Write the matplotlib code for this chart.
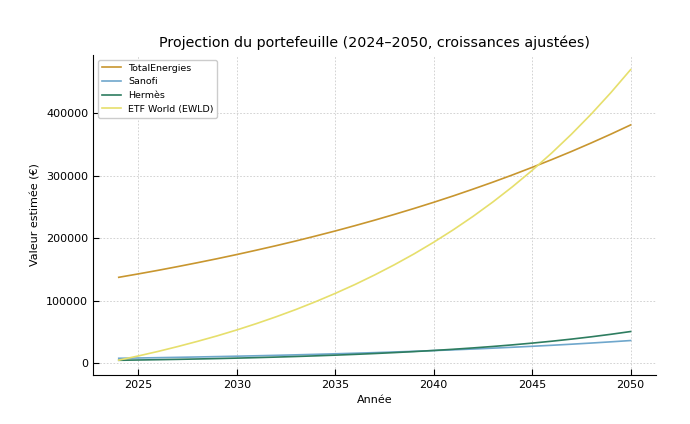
import matplotlib
matplotlib.use("Agg")
import matplotlib.pyplot as plt

# Years of the projection
years = list(range(2024, 2051))

# Estimated portfolio values (EUR)
total_energies = [137600, 143100, 148800, 154800, 161000, 167400, 174100, 181100,
                  188300, 195800, 203700, 211800, 220300, 229100, 238300, 247800,
                  257700, 268000, 278800, 289900, 301500, 313600, 326100, 339100,
                  352700, 366800, 381500]
sanofi = [8000, 8480, 8990, 9530, 10100, 10710, 11350, 12030, 12750, 13520, 14330,
          15190, 16100, 17060, 18090, 19170, 20320, 21540, 22830, 24210, 25660,
          27200, 28830, 30560, 32390, 34340, 36400]
hermes = [4800, 5260, 5760, 6300, 6900, 7560, 8270, 9060, 9920, 10860, 11900,
          13030, 14260, 15620, 17100, 18730, 20510, 22450, 24590, 26920, 29480,
          32280, 35350, 38710, 42380, 46410, 50820]
etf_world = [5000, 11800, 19000, 26800, 35100, 43900, 53400, 63600, 74500, 86100,
             98600, 111900, 126100, 141400, 157700, 175100, 193800, 213800, 235200,
             258100, 282600, 308800, 336800, 366800, 398900, 433300, 470000]

series = [
    ("TotalEnergies", total_energies, "#c8962f"),
    ("Sanofi", sanofi, "#6fa7cc"),
    ("Hermès", hermes, "#2e7d60"),
    ("ETF World (EWLD)", etf_world, "#e6df6c"),
]

fig, ax = plt.subplots(figsize=(6.9, 4.24), dpi=100)
fig.subplots_adjust(left=0.135, right=0.951, top=0.870, bottom=0.116)

for name, values, color in series:
    ax.plot(years, values, color=color, linewidth=1.2, label=name)

ax.set_title("Projection du portefeuille (2024–2050, croissances ajustées)", fontsize=10.3)
ax.set_xlabel("Année", fontsize=8)
ax.set_ylabel("Valeur estimée (€)", fontsize=8)
ax.tick_params(labelsize=8, direction="in", length=4)
ax.grid(True, linestyle=(0, (2, 2)), color="#cccccc", linewidth=0.6)
ax.spines["top"].set_visible(False)
ax.spines["right"].set_visible(False)
ax.legend(loc="upper left", fontsize=6.8, framealpha=1, edgecolor="#cccccc")

fig.savefig("out.png", dpi=100)
